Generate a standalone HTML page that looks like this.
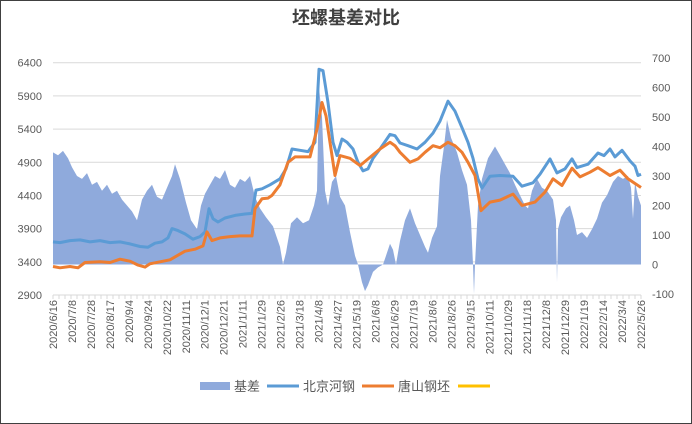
<!DOCTYPE html>
<html><head><meta charset="utf-8">
<style>
html,body{margin:0;padding:0;background:#fff;}
svg{display:block;font-family:"Liberation Sans","Noto Sans CJK SC",sans-serif;}
</style></head>
<body>
<svg id="chart" width="692" height="424" viewBox="0 0 692 424" xmlns="http://www.w3.org/2000/svg">
<rect x="0.5" y="0.5" width="691" height="423" fill="#fff" stroke="#404040" stroke-width="1"/>
<text x="346" y="24" text-anchor="middle" font-size="18" font-weight="bold" fill="#404040">坯螺基差对比</text>
<g id="grid"></g>
<g id="area"></g>
<g id="lines"></g>
<g id="axes"></g>
<g>
  <rect x="200" y="382" width="30" height="8" fill="#8faadc"/>
  <text x="234" y="391" font-size="13" fill="#595959">基差</text>
  <line x1="267" y1="386" x2="299" y2="386" stroke="#5b9bd5" stroke-width="3"/>
  <text x="303" y="391" font-size="13" fill="#595959">北京河钢</text>
  <line x1="362" y1="386" x2="394" y2="386" stroke="#ed7d31" stroke-width="3"/>
  <text x="398" y="391" font-size="13" fill="#595959">唐山钢坯</text>
  <line x1="458" y1="386" x2="490" y2="386" stroke="#ffc000" stroke-width="3"/>
</g>
</svg>
<script>
const categories = ["2020/6/16","2020/7/8","2020/7/28","2020/8/17","2020/9/4","2020/9/24","2020/10/22","2020/11/11","2020/12/1","2020/12/21","2021/1/11","2021/1/29","2021/2/26","2021/3/18","2021/4/8","2021/4/27","2021/5/19","2021/6/8","2021/6/29","2021/7/19","2021/8/6","2021/8/26","2021/9/15","2021/10/11","2021/10/29","2021/11/18","2021/12/8","2021/12/29","2022/1/19","2022/2/14","2022/3/4","2022/3/24","2022/4/15","2022/5/7","2022/5/26"];
const leftTicks = [2900,3400,3900,4400,4900,5400,5900,6400];
const rightTicks = [-100,0,100,200,300,400,500,600,700];
const beijingPos = [0,7,17,27,37,47,57,67,77,87,95,102,109,115,119,125,132,140,147,152,156,160,165,172,182,192,199,203,209,217,227,233,239,247,255,262,266,270,275,280,284,289,294,300,305,310,315,320,327,337,342,347,355,364,372,380,387,395,402,409,415,420,425,429,437,447,460,469,480,487,497,504,512,519,524,535,545,551,557,562,569,577,582,585,588];
const beijingVals = [3700,3690,3720,3730,3700,3720,3690,3700,3670,3630,3620,3680,3700,3760,3900,3870,3820,3740,3780,3850,4200,4050,4000,4060,4100,4120,4130,4480,4500,4560,4650,4800,5100,5080,5060,5200,6300,6280,5800,5200,5000,5250,5200,5100,4900,4770,4800,4960,5100,5320,5300,5190,5150,5100,5200,5340,5520,5820,5670,5420,5200,4960,4650,4510,4690,4700,4690,4540,4590,4720,4950,4740,4800,4950,4820,4870,5040,5000,5100,4980,5080,4920,4840,4700,4720];
const tangshanPos = [0,7,17,25,32,47,57,67,77,85,92,97,107,117,125,132,142,150,154,159,167,177,187,199,202,209,215,219,227,235,242,257,264,269,273,278,282,287,297,307,319,327,337,342,347,357,365,372,380,387,395,402,409,415,422,428,437,447,460,469,482,492,500,509,519,527,537,545,557,567,575,582,588];
const tangshanVals = [3330,3310,3330,3310,3390,3400,3390,3440,3410,3350,3320,3370,3400,3430,3500,3560,3590,3640,3850,3720,3760,3780,3790,3790,4200,4350,4360,4400,4560,4900,4980,4980,5400,5800,5600,5100,4700,5000,4960,4850,5000,5100,5200,5150,5050,4900,4950,5050,5150,5120,5200,5150,5050,4900,4700,4170,4300,4330,4420,4250,4300,4450,4650,4550,4810,4680,4750,4820,4700,4780,4650,4580,4520];
const basisPos = [0,5,10,15,19,24,29,34,39,44,49,54,59,64,69,74,79,84,89,94,99,104,109,114,119,122,127,133,138,144,148,152,157,162,167,172,177,182,187,192,197,202,207,213,220,227,230,233,238,244,250,256,261,264,266,269,272,275,279,283,287,292,297,302,305,309,312,315,320,325,330,333,337,340,343,347,352,357,362,367,372,375,379,384,387,391,394,398,404,409,414,418,420,421,422,425,429,435,442,447,452,457,462,467,472,475,479,484,489,494,500,503,504,505,508,513,517,521,524,529,534,539,544,549,554,560,565,570,575,578,580,582,585,588];
const basisVals = [380,370,385,360,330,300,290,310,270,280,250,270,240,250,220,200,180,150,220,250,270,230,220,260,300,340,290,210,150,120,200,240,270,300,290,320,270,260,290,280,300,230,190,160,130,60,0,40,140,160,140,150,200,250,600,500,250,200,280,300,230,200,110,30,0,-60,-90,-70,-25,-10,0,30,70,50,0,80,150,190,140,100,60,40,90,130,300,400,490,430,380,320,270,150,0,-100,0,200,290,360,400,370,340,310,270,235,200,190,250,290,260,250,220,150,-60,120,160,190,200,150,100,110,90,120,155,210,235,280,300,290,300,260,155,280,230,200];

const X0=53, XW=588, YT=62.7, YB=295;
const xs = p => X0 + p/588*XW;
const yL = v => YB - (v-2900)/3500*(YB-YT);
const RT=58, RB=294;
const yR = v => RB - (v+100)/800*(RB-RT);
const NS='http://www.w3.org/2000/svg';
function mk(tag, attrs, parent){const e=document.createElementNS(NS,tag);for(const k in attrs)e.setAttribute(k,attrs[k]);parent.appendChild(e);return e;}

const grid=document.getElementById('grid');
leftTicks.forEach(v=>{
  if(v===2900) return;
  const l=mk('line',{x1:X0,x2:X0+XW,y1:yL(v),y2:yL(v),stroke:'#d9d9d9','stroke-width':1},grid);
  
  
});
const axes=document.getElementById('axes');
const base=mk('line',{x1:X0,x2:X0+XW,y1:YB,y2:YB,stroke:'#d9d9d9','stroke-width':1},axes);


leftTicks.forEach(v=>{
  const t=mk('text',{x:42,y:yL(v)+4,'text-anchor':'end','font-size':11,fill:'#595959'},axes);
  t.textContent=v;
  
  
});
rightTicks.forEach(v=>{
  const t=mk('text',{x:652,y:yR(v)+4,'text-anchor':'start','font-size':11,fill:'#595959'},axes);
  t.textContent=v;
  
  
});
for(let i=0;i<=98;i++){
  const x=X0+i*XW/98;
  const tk=mk('line',{x1:x,x2:x,y1:YB,y2:YB+4,stroke:'#d9d9d9','stroke-width':1},axes);
  
  
}
const nL=32;
for(let i=0;i<nL;i++){
  const x=X0+i*XW/(nL-1)+4;
  const t=mk('text',{x:0,y:0,'text-anchor':'end','font-size':11,fill:'#595959',transform:`translate(${x},300) rotate(-90)`},axes);
  t.textContent=(i===nL-1)?categories[categories.length-1]:categories[i];
  
  
}

const areaG=document.getElementById('area');
let d=`M${xs(basisPos[0])},${yR(0)}`;
basisPos.forEach((p,i)=>{d+=` L${xs(p).toFixed(1)},${yR(basisVals[i]).toFixed(1)}`;});
d+=` L${xs(basisPos[basisPos.length-1])},${yR(0)} Z`;
const ar=mk('path',{d:d,fill:'#8faadc'},areaG);



const linesG=document.getElementById('lines');
function line(pos,vals,color,name){
  const n=Math.min(pos.length,vals.length);
  let s='';
  for(let i=0;i<n;i++) s+=(i?' L':'M')+xs(pos[i]).toFixed(1)+','+yL(vals[i]).toFixed(1);
  const p=mk('path',{d:s,fill:'none',stroke:color,'stroke-width':3,'stroke-linejoin':'round'},linesG);
  
  
}
line(beijingPos,beijingVals,'#5b9bd5','beijing-hegang-line');
line(tangshanPos,tangshanVals,'#ed7d31','tangshan-billet-line');
</script>
</body></html>
